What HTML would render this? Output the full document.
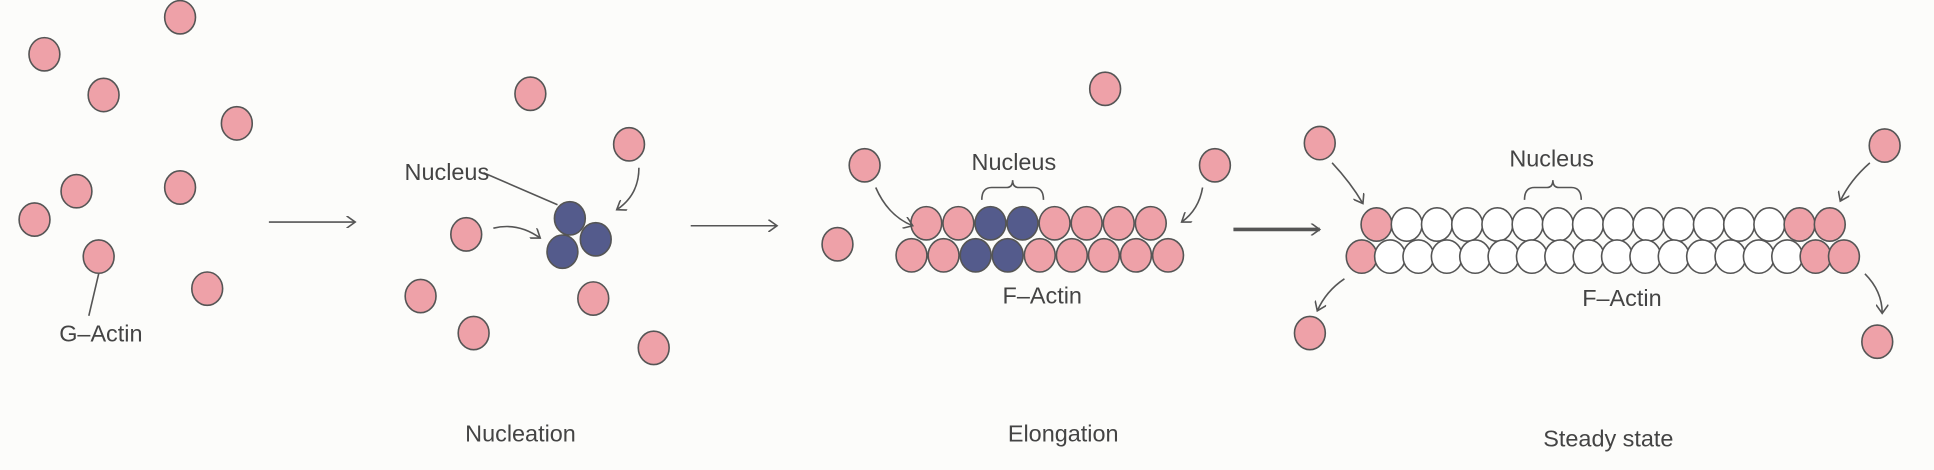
<!DOCTYPE html>
<html><head><meta charset="utf-8"><style>
html,body{margin:0;padding:0;background:#fcfcfa;}
svg{display:block;}
text{font-family:"Liberation Sans",sans-serif;fill:#444;font-size:19px;}
</style></head><body>
<svg id="fig" width="1934" height="470" viewBox="0 0 1568 381" preserveAspectRatio="none" xmlns="http://www.w3.org/2000/svg">
<defs><marker id="ah" markerWidth="10" markerHeight="10" refX="8" refY="5" orient="auto" markerUnits="userSpaceOnUse"><path d="M1,0 L8,5 L1,10" fill="none" stroke="#555" stroke-width="1.3"/></marker></defs>
<g id="content" fill="none" stroke="#555" stroke-width="1.3"></g>
<text x="48" y="277">G–Actin</text>
<text x="328" y="146">Nucleus</text>
<text x="422" y="358" text-anchor="middle">Nucleation</text>
<text x="822" y="138" text-anchor="middle">Nucleus</text>
<text x="845" y="246" text-anchor="middle">F–Actin</text>
<text x="862" y="358" text-anchor="middle">Elongation</text>
<text x="1258" y="135" text-anchor="middle">Nucleus</text>
<text x="1315" y="248" text-anchor="middle">F–Actin</text>
<text x="1304" y="362" text-anchor="middle">Steady state</text>
</svg>
<script>
const NS="http://www.w3.org/2000/svg";
const g=document.getElementById('content');
const PINK="#eea1a8",BLUE="#545b8c",WHITE="#fff";
function add(tag,attrs,name){const e=document.createElementNS(NS,tag);for(const k in attrs)e.setAttribute(k,attrs[k]);


g.appendChild(e);return e;}
function mono(x,y,fill,name){add('ellipse',{cx:x,cy:y,rx:12.5,ry:13.5,fill:fill},name);}
const free=[[36,44],[146,14],[84,77],[192,100],[62,155],[146,152],[28,178],[80,208],[168,234],
[430,76],[510,117],[378,190],[341,240],[481,242],[384,270],[530,282],
[896,72],[701,134],[985,134],[679,198],
[1070,116],[1528,118],[1062,270],[1522,277]];
free.forEach(p=>mono(p[0],p[1],PINK,'g-actin-monomer'));
[[462,177],[483,194],[456,204]].forEach(p=>mono(p[0],p[1],BLUE,'nucleus-monomer'));
for(let i=0;i<8;i++)mono(751+i*26,181,(i==2||i==3)?BLUE:PINK,'filament-top-monomer');
for(let i=0;i<9;i++)mono(739+i*26,207,(i==2||i==3)?BLUE:PINK,'filament-bottom-monomer');
for(let i=0;i<16;i++)mono(1116+i*24.5,182,(i==0||i>=14)?PINK:WHITE,'steady-top-monomer');
for(let i=0;i<18;i++)mono(1104+i*23,208,(i==0||i>=16)?PINK:WHITE,'steady-bottom-monomer');
add('line',{x1:80,y1:222,x2:72,y2:256},'g-actin-leader');
add('line',{x1:392,y1:140,x2:452,y2:166},'nucleus-leader');
add('line',{x1:218,y1:180,x2:288,y2:180,'marker-end':'url(#ah)'},'arrow-1');
add('line',{x1:560,y1:183,x2:630,y2:183,'marker-end':'url(#ah)'},'arrow-2');
add('line',{x1:1000,y1:186,x2:1070,y2:186,'stroke-width':3,'marker-end':'url(#ah)'},'arrow-3');
const curves=[["M400,185 Q420,180 438,193",'curve-arrow'],["M518,136 Q518,158 500,170",'curve-arrow'],
["M710,152 Q720,175 740,183",'curve-arrow'],["M975,152 Q972,170 958,180",'curve-arrow'],
["M1080,132 Q1095,148 1105,165",'curve-arrow'],["M1516,132 Q1500,146 1492,163",'curve-arrow'],
["M1090,226 Q1075,236 1068,252",'curve-arrow'],["M1512,222 Q1526,236 1526,254",'curve-arrow']];
curves.forEach(c=>add('path',{d:c[0],'marker-end':'url(#ah)'},c[1]));
function brace(x1,x2,y,name){const m=(x1+x2)/2;add('path',{d:`M${x1},${y+10} Q${x1},${y} ${x1+8},${y} L${m-5},${y} Q${m},${y} ${m},${y-6} Q${m},${y} ${m+5},${y} L${x2-8},${y} Q${x2},${y} ${x2},${y+10}`},name);}
brace(796,846,152,'nucleus-brace-1');
brace(1236,1282,152,'nucleus-brace-2');
</script>
</body></html>
